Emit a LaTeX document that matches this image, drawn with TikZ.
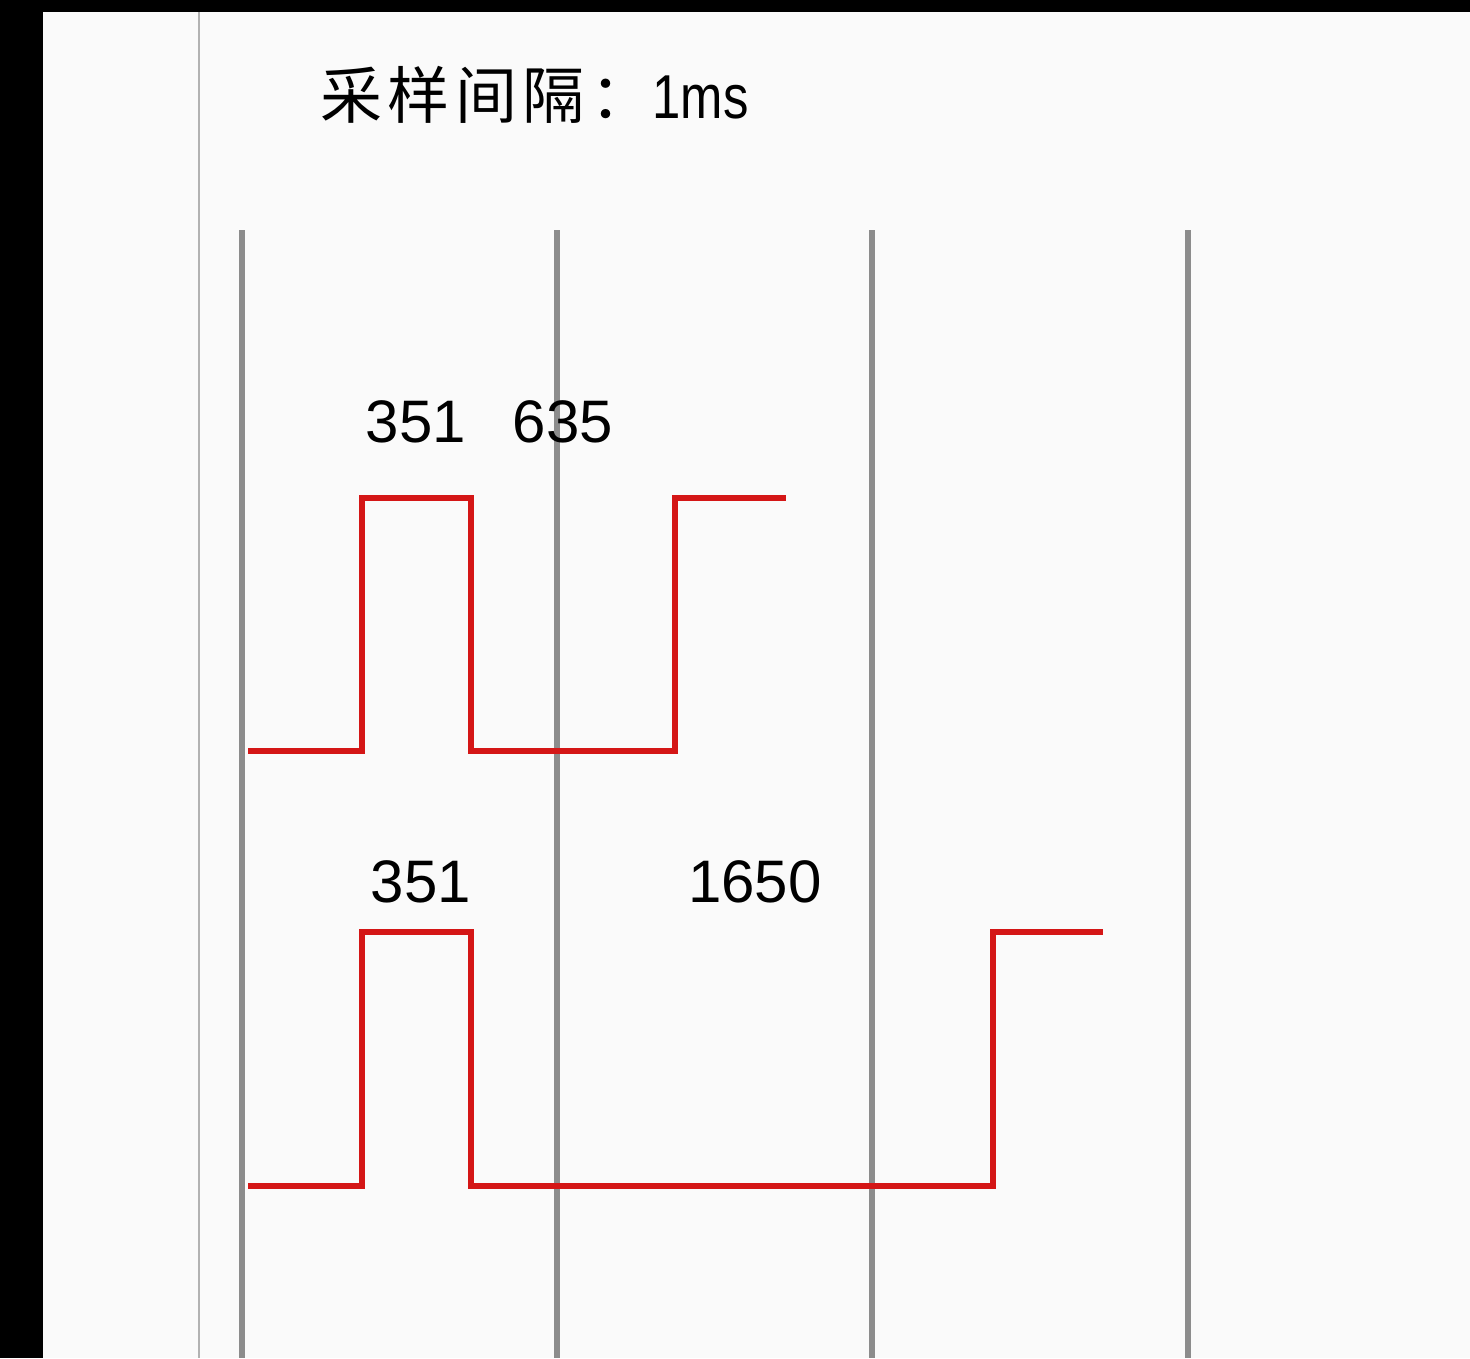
\documentclass[tikz,border=0pt]{standalone}
\usepackage{fontspec}
\setmainfont{Liberation Sans}
\newfontfamily\cjk[LetterSpace=9]{Noto Sans CJK SC}
\newfontfamily\narrowsans[FakeStretch=0.82]{Liberation Sans}
\definecolor{bgw}{RGB}{250,250,250}
\definecolor{gridg}{RGB}{140,140,140}
\definecolor{thing}{RGB}{178,178,178}
\definecolor{sigred}{RGB}{212,22,22}
\begin{document}
\begin{tikzpicture}[x=1pt,y=-1pt,
  gridline/.style={draw=gridg,line width=6pt},
  signal/.style={draw=sigred,line width=6pt,line join=miter},
  numlabel/.style={inner sep=0pt,font=\fontsize{60}{60}\selectfont},
  titlelabel/.style={inner sep=0pt,anchor=base west,font=\fontsize{62}{62}\selectfont}]
\useasboundingbox (0,0) rectangle (1470,1358);
\fill[black] (0,0) rectangle (1470,1358);
\fill[bgw] (43,12) rectangle (1470,1358);
% thin left rule
\draw[thing,line width=2pt] (199,12) -- (199,1358);
% grid lines
\foreach \gx in {242,557,872,1188}
  \draw[gridline] (\gx,230) -- (\gx,1358);
% title
\node[titlelabel] (title) at (320,118) {{\cjk 采样间隔：}{\narrowsans 1ms}};
% waveform 1
\draw[signal] (248,751) -- (362,751) -- (362,498) -- (471,498) -- (471,751) -- (675,751) -- (675,498) -- (786,498);
% waveform 2
\draw[signal] (248,1186) -- (362,1186) -- (362,932) -- (471,932) -- (471,1186) -- (993,1186) -- (993,932) -- (1103,932);
% labels
\node[numlabel] (a1) at (416,422) {351};
\node[numlabel] (a2) at (563,422) {635};
\node[numlabel] (b1) at (421,882) {351};
\node[numlabel] (b2) at (755,882) {1650};
\end{tikzpicture}
\end{document}
